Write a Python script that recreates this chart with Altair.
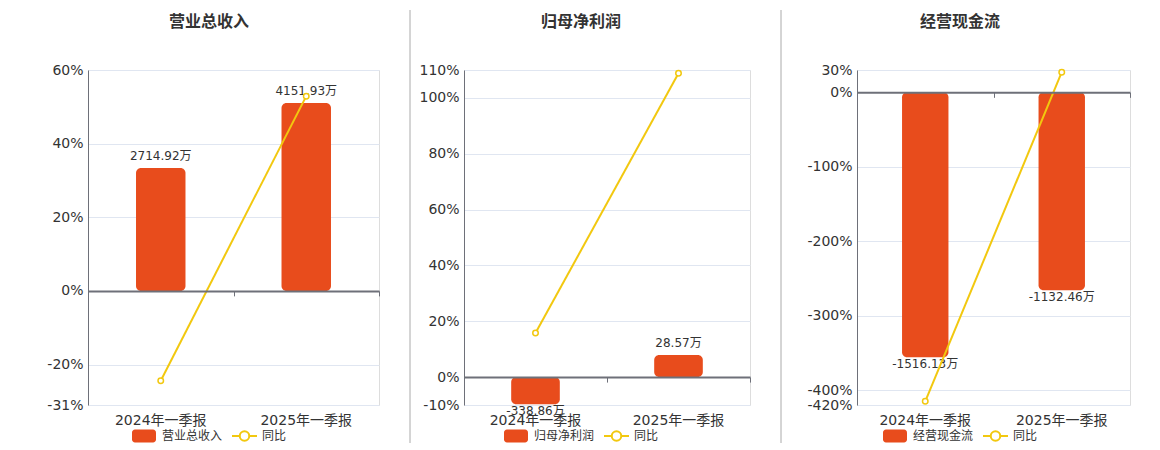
import altair as alt
import pandas as pd

categories = ["2024年一季报", "2025年一季报"]
titles = ["营业总收入", "归母净利润", "经营现金流"]
bar_values = [[2714.92, 4151.93], [-338.86, 28.57], [-1516.13, -1132.46]]
yoy_values = [[-24.4, 52.9], [15.8, 108.8], [-415.0, 27.0]]
pct_domains = [[-31, 60], [-10, 110], [-420, 30]]
pct_ticks = [
    [-31, -20, 0, 20, 40, 60],
    [-10, 0, 20, 40, 60, 80, 100, 110],
    [-420, -400, -300, -200, -100, 0, 30],
]
# bar axis (hidden) units per percent, so that the bar zero matches 0%
bar_per_pct = [81.3, 34.9, 4.26]
# minimum visible bar magnitude (like a bar min-height)
bar_min = [0, 276, 0]
yoy_name = "同比"

ORANGE = "#e84c1c"
YELLOW = "#f2c80f"
AXIS = "#6e7079"
GRID = "#e0e6f1"
TXT = "#333333"

widths = [291, 286, 273]
H = 335
centers = [121, 117, 103]
sep_x = [-76, -54, -76]
sep_col = ["#ffffff", "#aaaaaa", "#aaaaaa"]

dummy = pd.DataFrame({"d": [0]})


def panel(i):
    vals = bar_values[i]
    df = pd.DataFrame({
        "cat": categories,
        "bar": vals,
        "yoy": yoy_values[i],
        "label": [f"{v:.2f}万" for v in vals],
    })
    df["bar_disp"] = [(1 if v >= 0 else -1) * max(abs(v), bar_min[i]) for v in vals]
    lo, hi = pct_domains[i]
    k = bar_per_pct[i]
    bar_dom = [lo * k, hi * k]
    zero_off = H * (0 - lo) / (hi - lo)
    cx = centers[i]
    xs = alt.Scale(domain=categories, paddingInner=0, paddingOuter=0)
    base = alt.Chart(df)

    x_plain = alt.X("cat:N", scale=xs, sort=categories, axis=None)
    ybar = alt.Y("bar_disp:Q", scale=alt.Scale(domain=bar_dom, nice=False, zero=False), axis=None)
    ypct_plain = alt.Y("yoy:Q", scale=alt.Scale(domain=[lo, hi], nice=False, zero=False), axis=None)

    sep = alt.Chart(dummy).mark_rule(color=sep_col[i], strokeWidth=1).encode(
        x=alt.value(sep_x[i]), y=alt.value(-60), y2=alt.value(373)
    )
    title = alt.Chart(dummy).mark_text(
        text=titles[i], fontSize=16, fontWeight="bold", color=TXT
    ).encode(x=alt.value(cx), y=alt.value(-48))

    bars = base.mark_bar(
        color=ORANGE, width=alt.RelativeBandSize(0.34), cornerRadiusEnd=5
    ).encode(
        x=alt.X(
            "cat:N", scale=xs, sort=categories, title=None,
            axis=alt.Axis(
                labelAngle=0, labelFontSize=14, labelColor=TXT, labelPadding=8,
                domain=False, ticks=False, grid=False,
            ),
        ),
        y=ybar,
        y2=alt.datum(0),
    )
    lab_pos = base.transform_filter("datum.bar >= 0").mark_text(
        baseline="bottom", dy=-5, fontSize=12, color=TXT
    ).encode(x=x_plain, y=ybar, text="label:N")
    lab_neg = base.transform_filter("datum.bar < 0").mark_text(
        baseline="top", dy=2, fontSize=12, color=TXT
    ).encode(x=x_plain, y=ybar, text="label:N")

    line = base.mark_line(color=YELLOW, strokeWidth=2).encode(
        x=alt.X(
            "cat:N", scale=xs, sort=categories, title=None,
            axis=alt.Axis(
                orient="bottom", offset=-zero_off, domain=True, domainColor=AXIS,
                domainWidth=2, ticks=True, tickBand="extent", tickSize=5,
                tickColor=AXIS, labels=False, grid=False, zindex=1,
            ),
        ),
        y=alt.Y(
            "yoy:Q", scale=alt.Scale(domain=[lo, hi], nice=False, zero=False), title=None,
            axis=alt.Axis(
                orient="left", values=pct_ticks[i], labelExpr="datum.value + '%'",
                labelFontSize=14, labelColor=TXT, labelPadding=5, ticks=False,
                domain=True, domainColor=AXIS, grid=True, gridColor=GRID,
            ),
        ),
    )
    pts = base.mark_point(
        filled=True, fill="white", stroke=YELLOW, strokeWidth=1.5, size=30, opacity=1
    ).encode(x=x_plain, y=ypct_plain)

    leg_rect = alt.Chart(dummy).mark_rect(color=ORANGE, cornerRadius=3).encode(
        x=alt.value(cx - 77), x2=alt.value(cx - 53), y=alt.value(359.5), y2=alt.value(372.5)
    )
    leg_t1 = alt.Chart(dummy).mark_text(
        text=titles[i], align="left", baseline="middle", fontSize=12, color=TXT
    ).encode(x=alt.value(cx - 47), y=alt.value(366))
    leg_line = alt.Chart(dummy).mark_rule(color=YELLOW, strokeWidth=2).encode(
        x=alt.value(cx + 23), x2=alt.value(cx + 48), y=alt.value(366)
    )
    leg_pt = alt.Chart(dummy).mark_point(
        shape="circle", filled=True, fill="white", stroke=YELLOW, strokeWidth=2,
        size=90, opacity=1
    ).encode(x=alt.value(cx + 35.5), y=alt.value(366))
    leg_t2 = alt.Chart(dummy).mark_text(
        text=yoy_name, align="left", baseline="middle", fontSize=12, color=TXT
    ).encode(x=alt.value(cx + 53), y=alt.value(366))

    return alt.layer(
        sep, title, bars, lab_pos, lab_neg, line, pts,
        leg_rect, leg_t1, leg_line, leg_pt, leg_t2,
    ).resolve_scale(y="independent").resolve_axis(
        x="independent", y="independent"
    ).properties(width=widths[i], height=H)


chart = alt.hconcat(panel(0), panel(1), panel(2), spacing=29).properties(
    padding={"left": 3, "top": 1, "right": 5, "bottom": 5}
).configure_view(stroke=None).configure(font="DejaVu Sans, Noto Sans CJK SC")

chart.save("out.html", embed_options={"renderer": "svg", "actions": False})
